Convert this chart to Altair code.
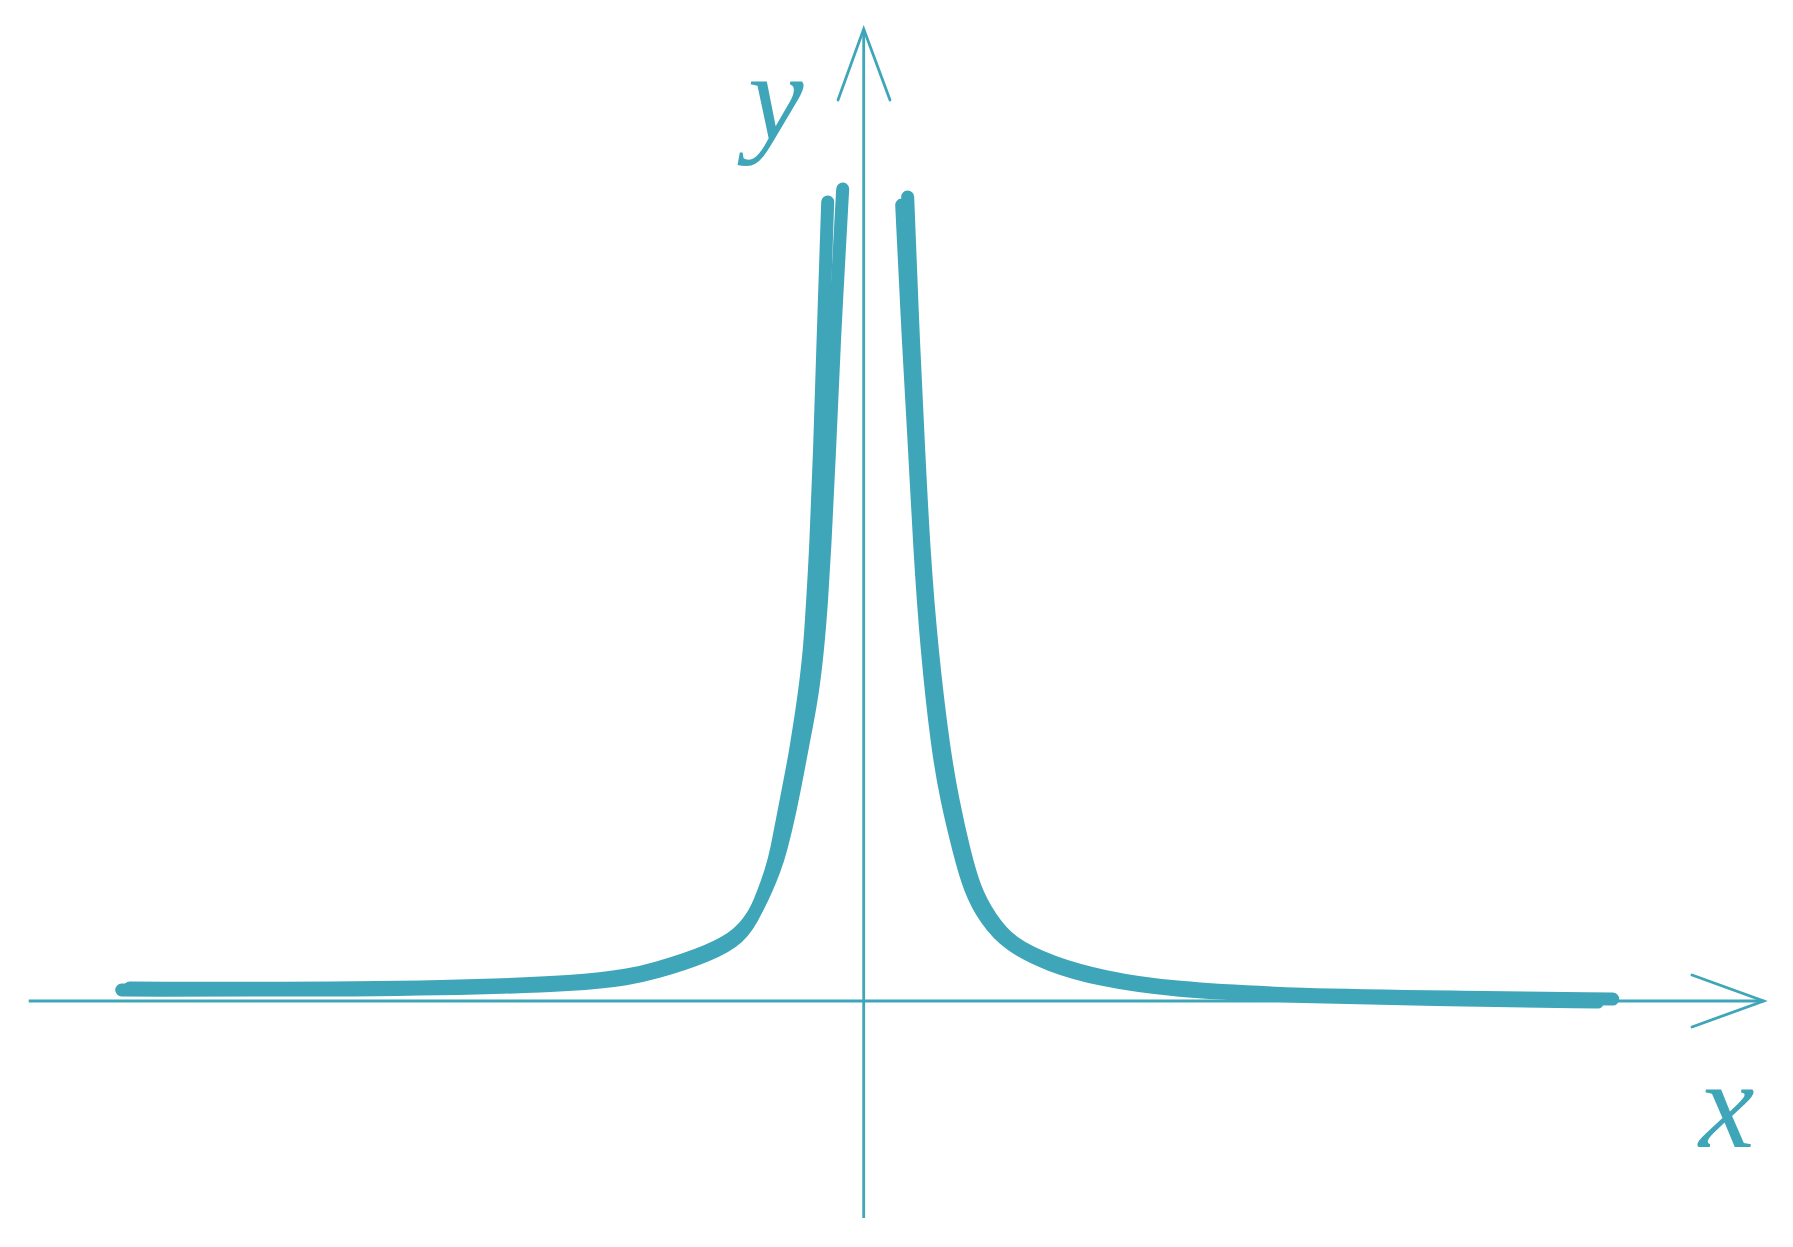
import altair as alt
import pandas as pd

TEAL = "#3ea6b8"

# curve branches, two rough strokes each (units: 1 = 100 px)
left_a_x = [-7.42, -5.14, -2.64, -2.04, -1.54, -1.24, -1.07, -0.91, -0.87, -0.80, -0.71, -0.68, -0.60, -0.54, -0.51, -0.48, -0.44, -0.41, -0.36]
left_a_y = [0.11, 0.10, 0.15, 0.29, 0.46, 0.62, 0.89, 1.34, 1.51, 1.88, 2.34, 2.51, 3.01, 3.51, 4.01, 4.51, 5.51, 6.51, 7.99]
left_b_x = [-7.34, -5.14, -2.64, -2.04, -1.54, -1.24, -1.05, -0.88, -0.83, -0.74, -0.65, -0.62, -0.52, -0.46, -0.42, -0.39, -0.34, -0.30, -0.21]
left_b_y = [0.13, 0.12, 0.18, 0.33, 0.50, 0.66, 0.93, 1.34, 1.51, 1.88, 2.34, 2.51, 3.01, 3.51, 4.01, 4.51, 5.51, 6.51, 8.12]
right_a_x = [0.44, 0.50, 0.55, 0.60, 0.68, 0.80, 0.89, 1.00, 1.11, 1.26, 1.46, 1.89, 2.39, 3.06, 4.36, 5.86, 7.49]
right_a_y = [8.04, 6.51, 5.51, 4.51, 3.51, 2.51, 2.01, 1.51, 1.11, 0.84, 0.58, 0.38, 0.24, 0.13, 0.06, 0.04, 0.02]
right_b_x = [0.38, 0.45, 0.51, 0.56, 0.63, 0.74, 0.83, 0.95, 1.06, 1.22, 1.44, 1.86, 2.36, 3.06, 4.36, 5.86, 7.34]
right_b_y = [7.96, 6.51, 5.51, 4.51, 3.51, 2.51, 2.01, 1.51, 1.11, 0.81, 0.56, 0.35, 0.21, 0.10, 0.04, 0.01, -0.01]

# axis extents
x_axis_from, x_axis_to = -8.35, 9.00
y_axis_from, y_axis_to = -2.17, 9.72

# arrowheads: barb, tip, barb
arrow_y_x = [-0.257, 0.0, 0.263]
arrow_y_y = [9.01, 9.72, 9.01]
arrow_x_x = [8.283, 9.00, 8.283]
arrow_x_y = [0.26, 0.0, -0.26]

labels = ["y", "x"]
label_x = [-0.88, 8.63]
label_y = [8.62, -1.46]

X_DOM = [-8.557, 9.043]
Y_DOM = [-2.27, 9.93]

rows = []
for name, xs, ys in [("la", left_a_x, left_a_y), ("lb", left_b_x, left_b_y),
                     ("ra", right_a_x, right_a_y), ("rb", right_b_x, right_b_y)]:
    for i, (a, b) in enumerate(zip(xs, ys)):
        rows.append({"stroke": name, "i": i, "x": a, "y": b})
curve = pd.DataFrame(rows)

arrows = pd.DataFrame(
    [{"arrow": "y", "i": i, "x": a, "y": b} for i, (a, b) in enumerate(zip(arrow_y_x, arrow_y_y))]
    + [{"arrow": "x", "i": i, "x": a, "y": b} for i, (a, b) in enumerate(zip(arrow_x_x, arrow_x_y))]
)

axes = pd.DataFrame({
    "x": [x_axis_from, 0.0], "x2": [x_axis_to, 0.0],
    "y": [0.0, y_axis_from], "y2": [0.0, y_axis_to],
})

text_df = pd.DataFrame({"t": labels, "x": label_x, "y": label_y})

xs = alt.Scale(domain=X_DOM, nice=False, zero=False)
ys = alt.Scale(domain=Y_DOM, nice=False, zero=False)

axis_lines = alt.Chart(axes).mark_rule(color=TEAL, strokeWidth=2.8).encode(
    x=alt.X("x:Q", scale=xs, axis=None), x2="x2:Q",
    y=alt.Y("y:Q", scale=ys, axis=None), y2="y2:Q",
)

heads = alt.Chart(arrows).mark_line(color=TEAL, strokeWidth=2.8, strokeCap="round",
                                    strokeJoin="miter").encode(
    x=alt.X("x:Q", scale=xs, axis=None),
    y=alt.Y("y:Q", scale=ys, axis=None),
    detail="arrow:N",
    order="i:Q",
)

curves = alt.Chart(curve).mark_line(color=TEAL, strokeWidth=13, strokeCap="round",
                                    strokeJoin="round", interpolate="basis").encode(
    x=alt.X("x:Q", scale=xs, axis=None),
    y=alt.Y("y:Q", scale=ys, axis=None),
    detail="stroke:N",
    order="i:Q",
)

text = alt.Chart(text_df).mark_text(color=TEAL, font="Liberation Serif", fontStyle="italic",
                                    fontSize=125, align="center", baseline="alphabetic").encode(
    x=alt.X("x:Q", scale=xs, axis=None),
    y=alt.Y("y:Q", scale=ys, axis=None),
    text="t:N",
)

chart = (
    alt.layer(axis_lines, heads, curves, text)
    .properties(width=1760, height=1220, padding=0, background="white")
    .configure_view(strokeWidth=0)
)

chart.save("out.html", embed_options={"renderer": "svg", "actions": False})
